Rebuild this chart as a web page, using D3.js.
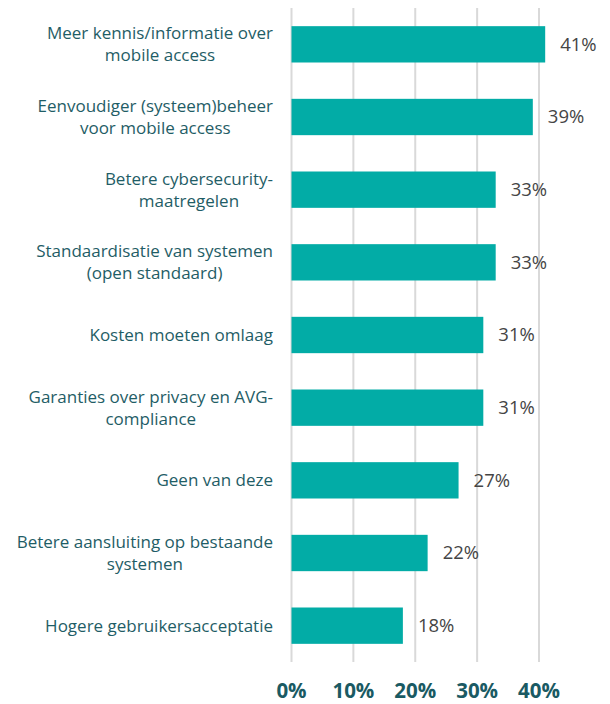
<!DOCTYPE html>
<html>
<head>
<meta charset="utf-8">
<script src="https://cdn.jsdelivr.net/npm/d3@7"></script>
<style>
  body { margin: 0; background: #fff; }
</style>
</head>
<body>
<div id="chart"></div>
<script>
// data
const categories = [
    "Meer kennis/informatie over\nmobile access",
    "Eenvoudiger (systeem)beheer\nvoor mobile access",
    "Betere cybersecurity-\nmaatregelen",
    "Standaardisatie van systemen\n(open standaard)",
    "Kosten moeten omlaag",
    "Garanties over privacy en AVG-\ncompliance",
    "Geen van deze",
    "Betere aansluiting op bestaande\nsystemen",
    "Hogere gebruikersacceptatie"
];
const values = [41, 39, 33, 33, 31, 31, 27, 22, 18];
const ticks = [0, 10, 20, 30, 40];

const width = 610;
const height = 704;
const font = "'Open Sans', sans-serif";

const svg = d3.select("#chart")
    .append("svg")
    .attr("width", width)
    .attr("height", height);

const x = d3.scaleLinear()
    .domain([0, 40])
    .range([291.5, 539]);

const y = d3.scaleBand()
    .domain(categories)
    .range([8, 662])
    .paddingInner(0.5)
    .paddingOuter(0.25);

// gridlines
svg.append("g")
    .selectAll("line")
    .data(ticks)
    .enter()
    .append("line")
    .attr("x1", d => x(d))
    .attr("x2", d => x(d))
    .attr("y1", 8)
    .attr("y2", 662)
    .attr("stroke", "#d9d9d9")
    .attr("stroke-width", 2);

// bars
svg.append("g")
    .selectAll("rect")
    .data(values)
    .enter()
    .append("rect")
    .attr("x", x(0))
    .attr("y", (d, i) => y(categories[i]))
    .attr("width", d => x(d) - x(0))
    .attr("height", y.bandwidth())
    .attr("fill", "#02aca6");

// value labels
svg.append("g")
    .selectAll("text")
    .data(values)
    .enter()
    .append("text")
    .attr("x", d => x(d) + 15)
    .attr("y", (d, i) => y(categories[i]) + y.bandwidth() / 2)
    .attr("dy", "0.35em")
    .attr("font-family", font)
    .attr("font-size", "18.5px")
    .attr("fill", "#454545")
    .text(d => d + "%");

// category labels: lines centred within a block right-aligned at x=273
const labels = svg.append("g")
    .selectAll("text")
    .data(categories)
    .enter()
    .append("text")
    .attr("text-anchor", "middle")
    .attr("font-family", font)
    .attr("font-size", "17px")
    .attr("fill", "#1f5d66");

labels.each(function(d) {
    const el = d3.select(this);
    const lines = d.split("\n");
    const cy = y(d) + y.bandwidth() / 2;
    const lh = 22;
    const top = cy - (lines.length - 1) * lh / 2;
    const spans = lines.map((line, i) =>
        el.append("tspan")
            .attr("y", top + i * lh)
            .attr("dy", "0.35em")
            .text(line));
    const maxW = d3.max(spans, s => s.node().getComputedTextLength());
    spans.forEach(s => s.attr("x", 273 - maxW / 2));
});

// x axis labels
svg.append("g")
    .selectAll("text")
    .data(ticks)
    .enter()
    .append("text")
    .attr("x", d => x(d))
    .attr("y", 691)
    .attr("dy", "0.35em")
    .attr("text-anchor", "middle")
    .attr("font-family", font)
    .attr("font-size", "20.5px")
    .attr("font-weight", "bold")
    .attr("fill", "#1a5a63")
    .text(d => d + "%");
</script>
</body>
</html>
